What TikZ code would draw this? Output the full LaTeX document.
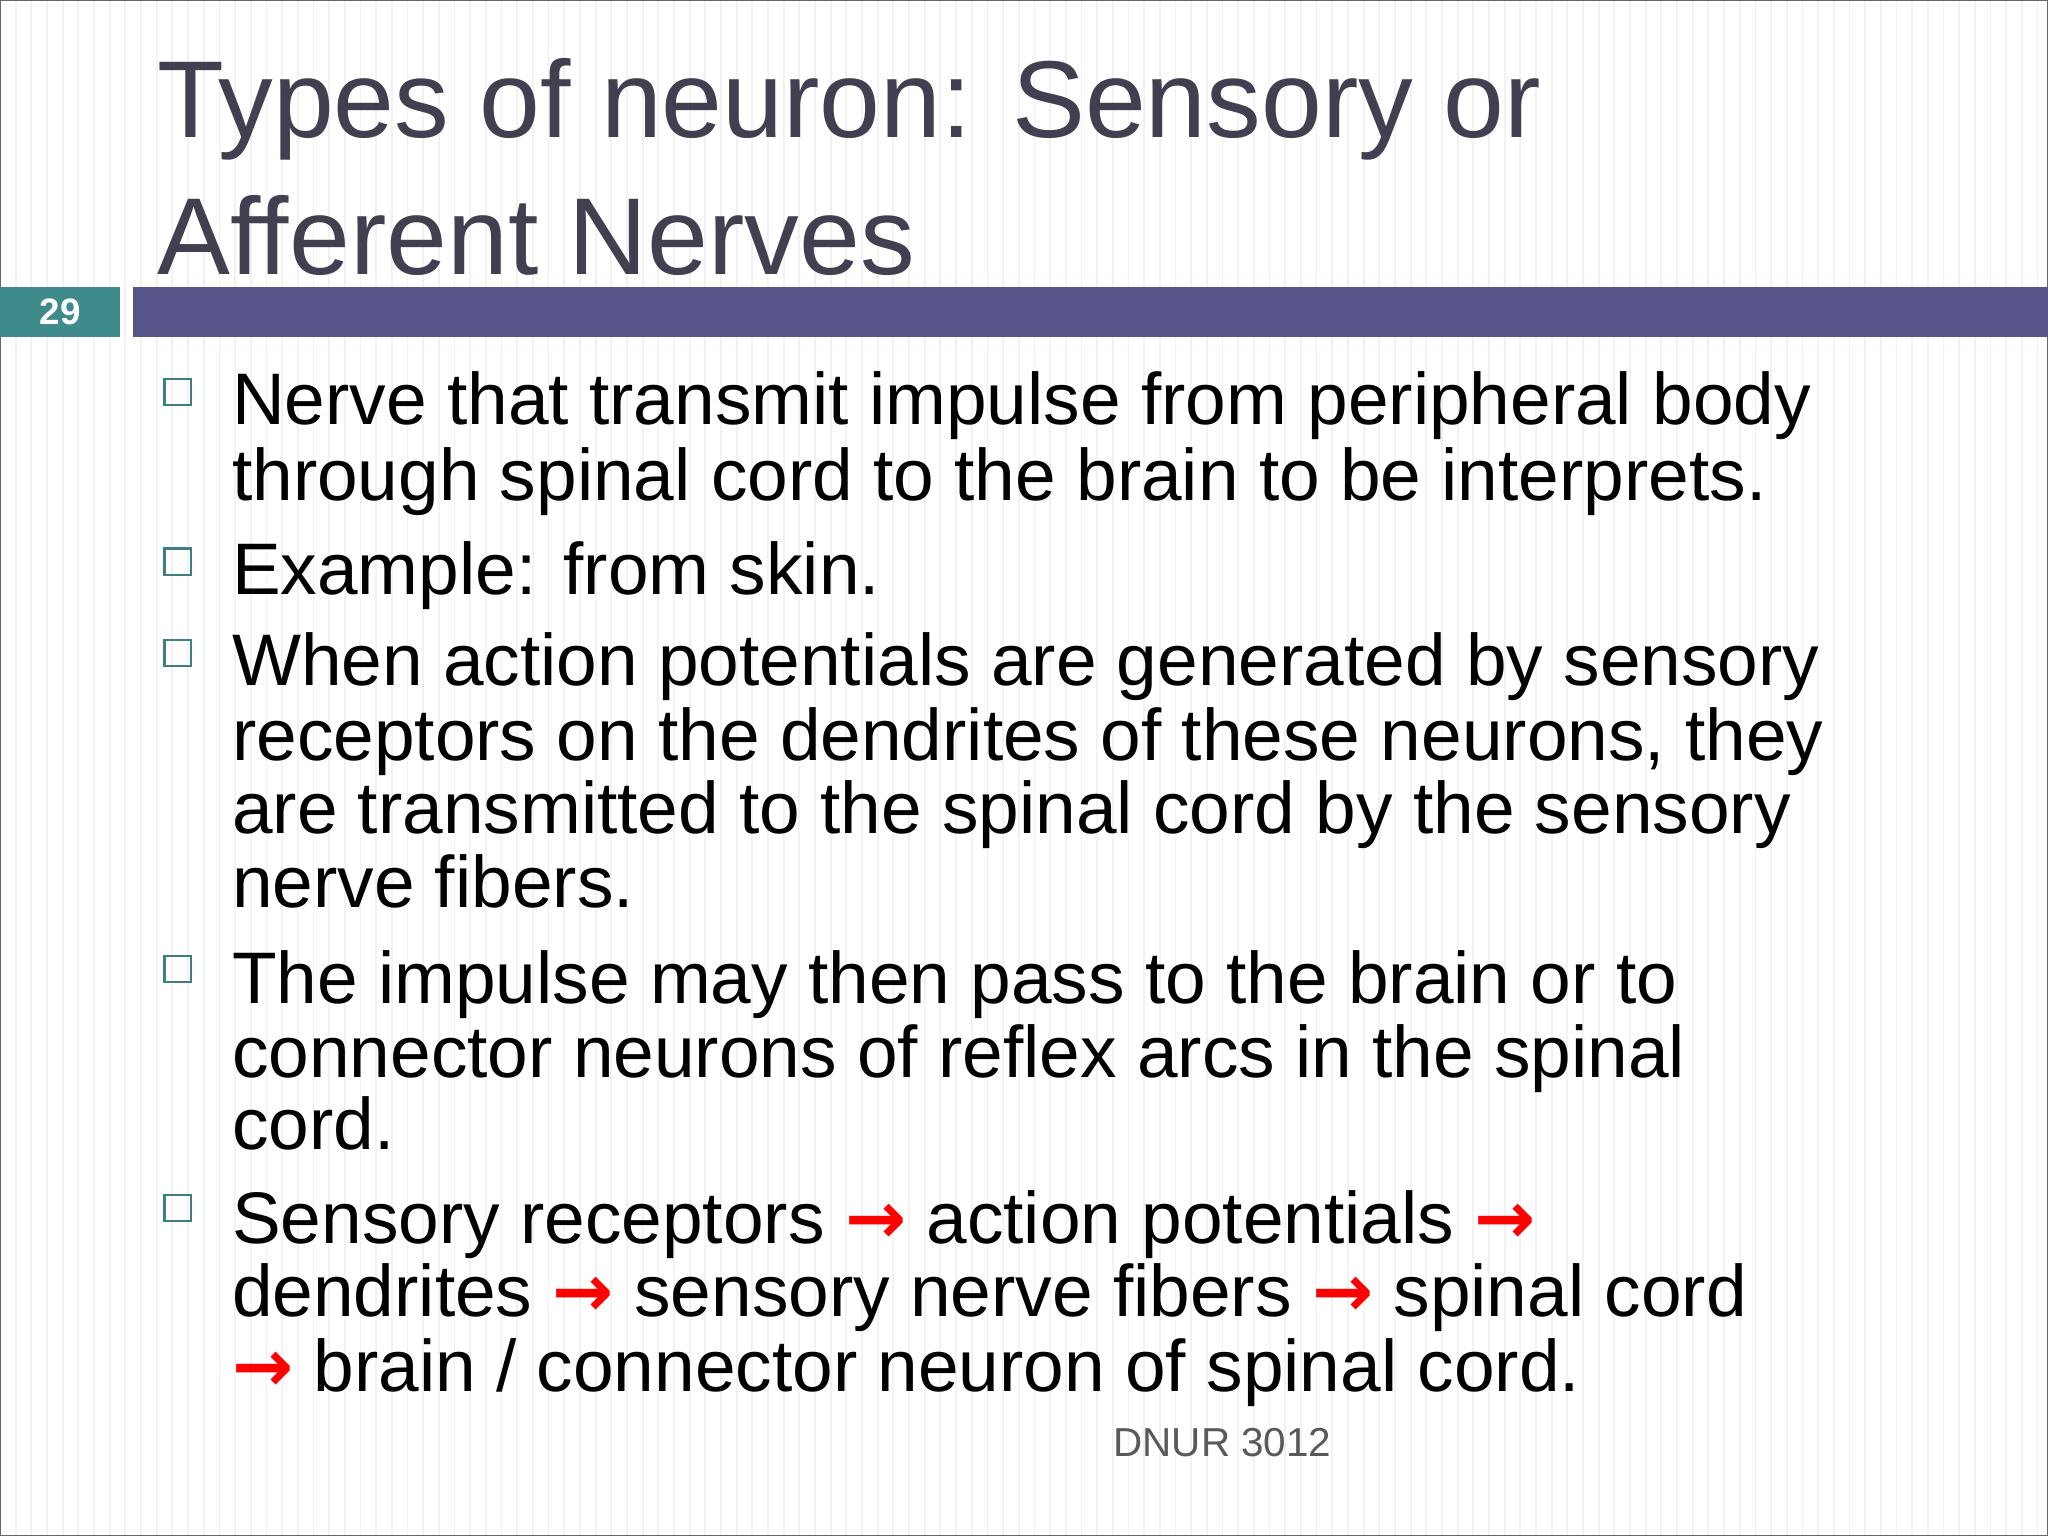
\documentclass[tikz,border=0pt]{standalone}
\usepackage{fontspec}
\setmainfont{Liberation Sans}
\newfontfamily\arrowfont{DejaVu Sans}
\definecolor{titlec}{HTML}{404050}
\definecolor{barc}{HTML}{565489}
\definecolor{numc}{HTML}{3F8A8A}
\definecolor{bulc}{HTML}{3F7F7F}
\newcommand{\ra}{{\color{red}\arrowfont\bfseries →}}
\begin{document}
\begin{tikzpicture}[x=0.01cm,y=-0.01cm,
  body/.style={anchor=base west,inner sep=0,font=\fontsize{15.9}{19}\selectfont,text=black},
  title/.style={anchor=base west,inner sep=0,font=\fontsize{23.8}{28}\selectfont,text=titlec},
  bul/.style={draw=bulc,line width=0.5pt,minimum size=0.2cm,inner sep=0,anchor=center}]
\useasboundingbox (0,0) rectangle (1568,1176);
\fill[white] (0,0) rectangle (1568,1176);
\foreach \i in {0,12,...,1560} \draw[black!5,line width=0.4pt] (\i,0) -- (\i,1176);
\draw[black!60,line width=0.6pt] (0,0) rectangle (1568,1176);
\node[title] (t1) at (120,105) {Types of neuron: Sensory or};
\node[title] (t2) at (120,210) {Afferent Nerves};
\fill[numc] (0,220) rectangle (92,258);
\node[text=white,font=\bfseries\fontsize{8}{9}\selectfont] (num) at (46,239) {29};
\fill[barc] (102,220) rectangle (1568,258);
\foreach \y in {300,430,500,742,925} \node[bul] at (136,\y) {};
\node[body] (l1) at (177,325) {Nerve that transmit impulse from peripheral body};
\node[body] (l2) at (177,383) {through spinal cord to the brain to be interprets.};
\node[body] (l3) at (177,455) {Example: from skin.};
\node[body] (l4) at (177,525) {When action potentials are generated by sensory};
\node[body] (l5) at (177,582) {receptors on the dendrites of these neurons, they};
\node[body] (l6) at (177,638) {are transmitted to the spinal cord by the sensory};
\node[body] (l7) at (177,695) {nerve fibers.};
\node[body] (l8) at (177,768) {The impulse may then pass to the brain or to};
\node[body] (l9) at (177,825) {connector neurons of reflex arcs in the spinal};
\node[body] (l10) at (177,880) {cord.};
\node[body] (l11) at (177,952) {Sensory receptors \ra{} action potentials \ra};
\node[body] (l12) at (177,1008) {dendrites \ra{} sensory nerve fibers \ra{} spinal cord};
\node[body] (l13) at (177,1065) {\ra{} brain / connector neuron of spinal cord.};
\node[anchor=base,inner sep=0,text=black!65,font=\fontsize{8.8}{10}\selectfont] (ft) at (936,1115) {DNUR 3012};
\end{tikzpicture}
\end{document}
